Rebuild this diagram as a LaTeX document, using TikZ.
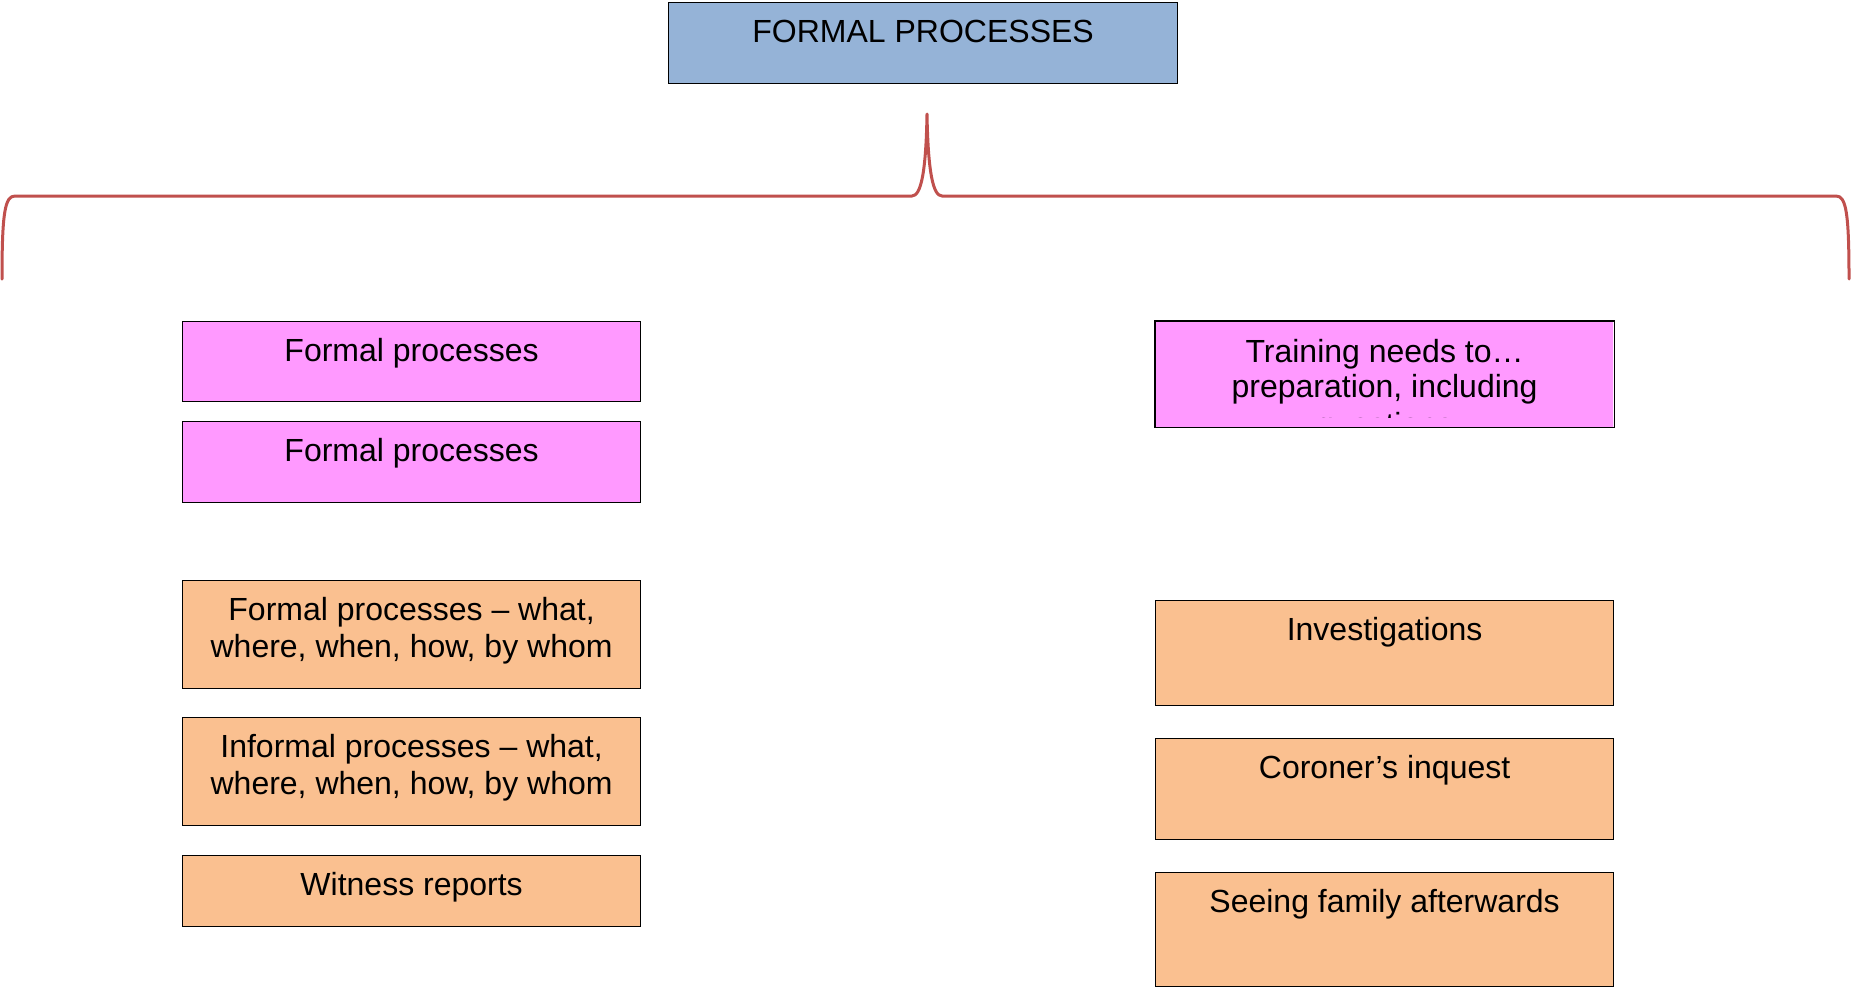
\documentclass[tikz,border=0pt]{standalone}
\usepackage{fontspec}
\setmainfont{Liberation Sans}
\definecolor{headblue}{HTML}{95B3D7}
\definecolor{pinkbox}{HTML}{FF99FF}
\definecolor{orangebox}{HTML}{FAC090}
\definecolor{bracered}{HTML}{C0504D}
% box body: fixed size, text centred and hung from the top edge
\newcommand{\boxbody}[4][40]{\begin{minipage}[t][#3pt][t]{#2pt}\centering\rule{0pt}{#1pt}#4\end{minipage}}
\tikzset{
  panel/.style={draw=black, line width=1.2pt, inner sep=0pt, anchor=north west,
    font=\fontsize{32}{36.5}\selectfont},
  headbox/.style={panel, fill=headblue},
  pinkpanel/.style={panel, fill=pinkbox},
  orangepanel/.style={panel, fill=orangebox},
  bracket/.style={draw=bracered, line width=3pt, line cap=round, line join=round}
}
\begin{document}
\begin{tikzpicture}[x=1pt, y=-1pt]
\useasboundingbox (0,0) rectangle (1851,988);

% heading
\node[headbox] (head) at (668,2) {\boxbody{509}{81}{FORMAL PROCESSES}};

% curly bracket under the heading
\coordinate (lend) at (2,279);
\coordinate (rend) at (1849,279);
\coordinate (tip) at (927,114);
\draw[bracket] (lend) .. controls (2,212) and (5,196) .. (15,196) -- (912,196)
  .. controls (921,196) and (926,172) .. (tip)
  .. controls (928,172) and (933,196) .. (942,196) -- (1836,196)
  .. controls (1846,196) and (1849,212) .. (rend);

% left column
\node[pinkpanel] (fp1) at (182,321) {\boxbody{458}{80}{Formal processes}};
\node[pinkpanel] (fp2) at (182,421) {\boxbody{458}{81}{Formal processes}};
\node[orangepanel] (formal) at (182,580) {\boxbody{458}{108}{Formal processes -- what,\\where, when, how, by whom}};
\node[orangepanel] (informal) at (182,717) {\boxbody{458}{108}{Informal processes -- what,\\where, when, how, by whom}};
\node[orangepanel] (witness) at (182,855) {\boxbody{458}{71}{Witness reports}};

% right column; the third line of this box runs past its text area and is cut off
\begin{scope}
  \clip (1155,321) rectangle (1613,426);
  \node[pinkpanel, draw=none, font=\fontsize{32}{35}\selectfont] (train) at (1155,321)
    {\boxbody[41]{458}{105}{Training needs to…\\preparation, including\\[3pt]questions}};
  \fill[pinkbox] ([yshift=9pt]train.south west) rectangle (train.south east);
\end{scope}
\draw[line width=1.2pt] (train.north west) rectangle (train.south east);
\node[orangepanel] (invest) at (1155,600) {\boxbody{458}{105}{Investigations}};
\node[orangepanel] (coroner) at (1155,738) {\boxbody{458}{101}{Coroner’s inquest}};
\node[orangepanel] (family) at (1155,872) {\boxbody{458}{114}{Seeing family afterwards}};
\end{tikzpicture}
\end{document}
